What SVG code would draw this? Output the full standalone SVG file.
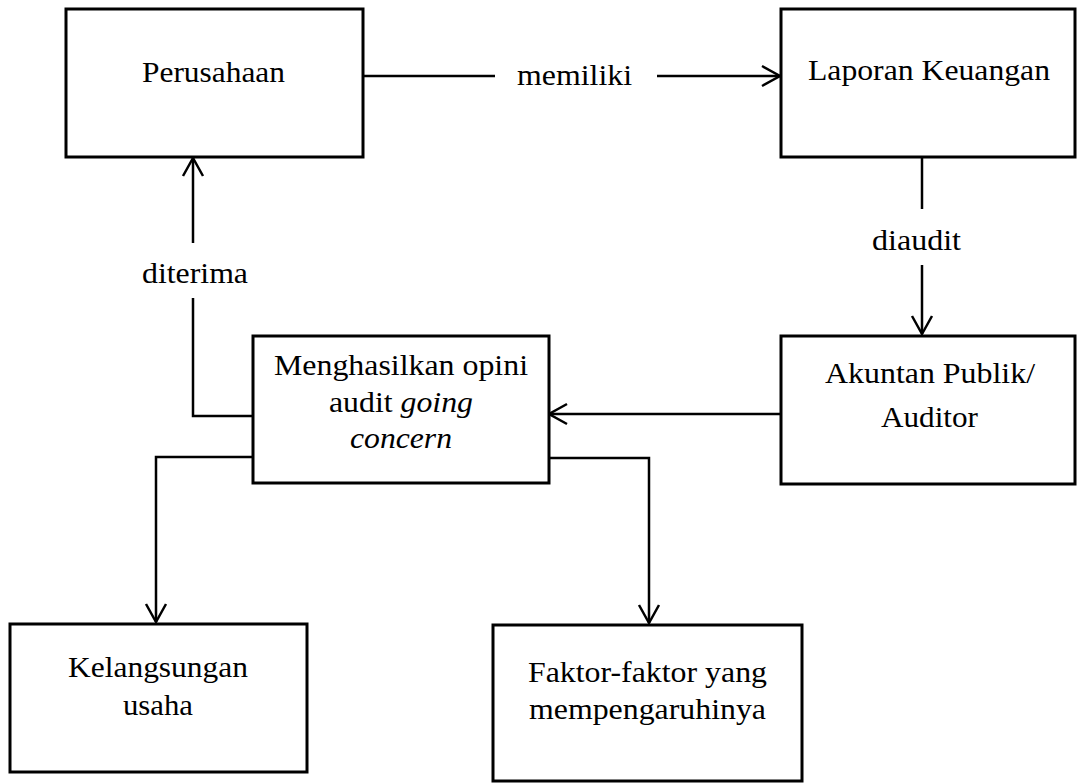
<svg xmlns="http://www.w3.org/2000/svg" width="1077" height="783" viewBox="0 0 1077 783">
  <style>
    .box { fill: #ffffff; stroke: #000000; stroke-width: 3; }
    .conn { fill: none; stroke: #000000; stroke-width: 2.5; }
    .t { font-family: "Liberation Serif", "Times New Roman", serif; font-size: 30px; fill: #000000; }
    .i { font-style: italic; }
  </style>
  <defs>
    <marker id="arrow" markerUnits="userSpaceOnUse" markerWidth="26" markerHeight="26" viewBox="-22 -13 26 26" refX="0" refY="0" orient="auto">
      <path d="M -18 -10 L 0 0 L -18 10" fill="none" stroke="#000000" stroke-width="2.5"/>
    </marker>
  </defs>
  <rect width="1077" height="783" fill="#ffffff"/>

  <g id="connectors">
    <line class="conn" x1="363" y1="76" x2="495" y2="76"/>
    <line class="conn" x1="657" y1="76" x2="780" y2="76" marker-end="url(#arrow)"/>
    <text class="t" x="517" y="85" textLength="115" lengthAdjust="spacingAndGlyphs">memiliki</text>

    <line class="conn" x1="922" y1="153" x2="922" y2="209"/>
    <line class="conn" x1="922" y1="265" x2="922" y2="334" marker-end="url(#arrow)"/>
    <text class="t" x="872" y="250" textLength="89" lengthAdjust="spacingAndGlyphs">diaudit</text>

    <line class="conn" x1="781" y1="414" x2="549" y2="414" marker-end="url(#arrow)"/>

    <polyline class="conn" points="253,416 193,416 193,298"/>
    <line class="conn" x1="193" y1="243" x2="193" y2="158" marker-end="url(#arrow)"/>
    <text class="t" x="142" y="283" textLength="106" lengthAdjust="spacingAndGlyphs">diterima</text>

    <polyline class="conn" points="253,457 156,457 156,622" marker-end="url(#arrow)"/>
    <polyline class="conn" points="549,458 649,458 649,623" marker-end="url(#arrow)"/>
  </g>

  <g id="perusahaan">
    <rect class="box" x="66" y="9" width="297" height="148"/>
    <text class="t" x="142" y="82" textLength="143" lengthAdjust="spacingAndGlyphs">Perusahaan</text>
  </g>

  <g id="laporan-keuangan">
    <rect class="box" x="781" y="9" width="294" height="148"/>
    <text class="t" x="808" y="80" textLength="242" lengthAdjust="spacingAndGlyphs">Laporan Keuangan</text>
  </g>

  <g id="akuntan-publik">
    <rect class="box" x="781" y="336" width="294" height="148"/>
    <text class="t" x="825" y="383" textLength="210" lengthAdjust="spacingAndGlyphs">Akuntan Publik/</text>
    <text class="t" x="881" y="427" textLength="97" lengthAdjust="spacingAndGlyphs">Auditor</text>
  </g>

  <g id="opini-going-concern">
    <rect class="box" x="253" y="336" width="296" height="147"/>
    <text class="t" x="274" y="375" textLength="254" lengthAdjust="spacingAndGlyphs">Menghasilkan opini</text>
    <text class="t" x="329" y="412" textLength="144" lengthAdjust="spacingAndGlyphs">audit <tspan class="i">going</tspan></text>
    <text class="t i" x="350" y="448" textLength="102" lengthAdjust="spacingAndGlyphs">concern</text>
  </g>

  <g id="kelangsungan-usaha">
    <rect class="box" x="10" y="624" width="297" height="148"/>
    <text class="t" x="68" y="677" textLength="180" lengthAdjust="spacingAndGlyphs">Kelangsungan</text>
    <text class="t" x="123" y="715" textLength="70" lengthAdjust="spacingAndGlyphs">usaha</text>
  </g>

  <g id="faktor-faktor">
    <rect class="box" x="493" y="625" width="309" height="156"/>
    <text class="t" x="528" y="682" textLength="239" lengthAdjust="spacingAndGlyphs">Faktor-faktor yang</text>
    <text class="t" x="529" y="719" textLength="237" lengthAdjust="spacingAndGlyphs">mempengaruhinya</text>
  </g>
</svg>
